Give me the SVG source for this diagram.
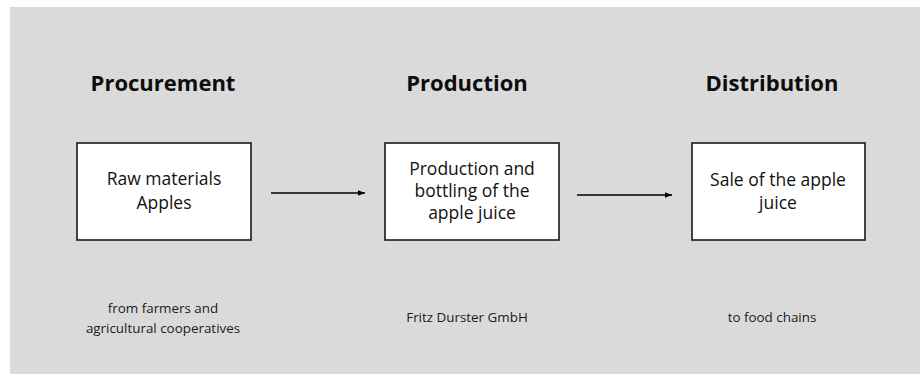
<svg xmlns="http://www.w3.org/2000/svg" width="920" height="374" viewBox="0 0 920 374">
  <defs>
    <marker id="arrowhead" viewBox="0 0 10 10" refX="10" refY="5" markerWidth="7" markerHeight="7" markerUnits="userSpaceOnUse" orient="auto">
      <path d="M0,1 L10,5 L0,9 z" fill="#000"/>
    </marker>
    <style>
      .heading { font-family: "Open Sans", "Noto Sans", sans-serif; font-weight: bold; font-size: 22px; fill: #0d0d0d; text-anchor: middle; }
      .box { fill: #ffffff; stroke: #1a1a1a; stroke-width: 1.6; }
      .label { font-family: "Open Sans", "Noto Sans", sans-serif; font-size: 17.5px; fill: #111; text-anchor: middle; }
      .note { font-family: "Open Sans", "Noto Sans", sans-serif; font-size: 13.4px; fill: #1a1a1a; text-anchor: middle; }
      .link { stroke: #000; stroke-width: 1.3; fill: none; marker-end: url(#arrowhead); }
    </style>
  </defs>

  <rect x="0" y="0" width="920" height="374" fill="#ffffff"/>
  <rect x="10" y="7" width="910" height="367" fill="#dadada"/>

  <g id="procurement">
    <text class="heading" x="163" y="91">Procurement</text>
    <rect class="box" x="77" y="143" width="174" height="97"/>
    <text class="label" x="164" y="185">Raw materials</text>
    <text class="label" x="164" y="209">Apples</text>
    <text class="note" x="163" y="313">from farmers and</text>
    <text class="note" x="163" y="333">agricultural cooperatives</text>
  </g>

  <g id="production">
    <text class="heading" x="467" y="91">Production</text>
    <rect class="box" x="385" y="143" width="174" height="97"/>
    <text class="label" x="472" y="175">Production and</text>
    <text class="label" x="472" y="197">bottling of the</text>
    <text class="label" x="472" y="219">apple juice</text>
    <text class="note" x="467" y="322">Fritz Durster GmbH</text>
  </g>

  <g id="distribution">
    <text class="heading" x="772" y="91">Distribution</text>
    <rect class="box" x="692" y="143" width="173" height="97"/>
    <text class="label" x="778" y="186">Sale of the apple</text>
    <text class="label" x="778" y="209">juice</text>
    <text class="note" x="772" y="322">to food chains</text>
  </g>

  <g id="connectors">
    <line class="link" x1="271" y1="193" x2="365" y2="193"/>
    <line class="link" x1="577" y1="195" x2="672" y2="195"/>
  </g>
</svg>
